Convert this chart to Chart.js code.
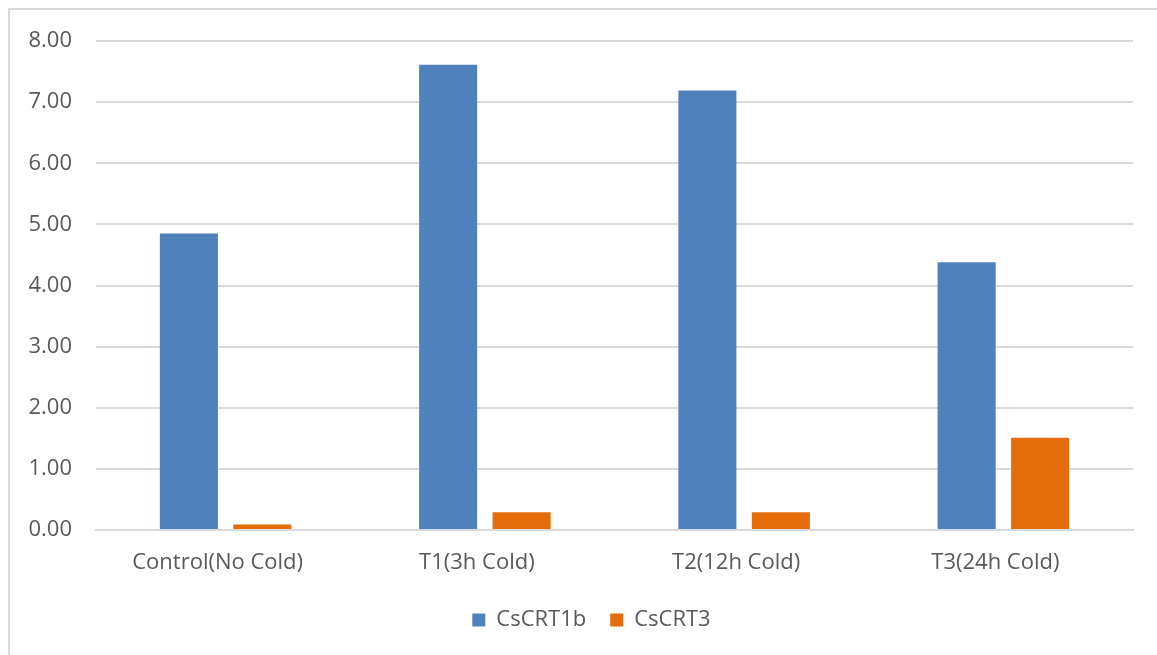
<!DOCTYPE html>
<html>
<head>
<meta charset="utf-8">
<script src="https://cdn.jsdelivr.net/npm/chart.js@4/dist/chart.umd.min.js"></script>
<style>
  html, body { margin: 0; padding: 0; background: #ffffff; }
  #wrap { position: relative; width: 1157px; height: 655px; overflow: hidden; }
  #frame { position: absolute; left: 8px; top: 8px; width: 1170px; height: 670px;
           border: 2px solid #d9d9d9; box-sizing: border-box; }
  #chart { position: absolute; left: 0; top: 0; }
</style>
</head>
<body>
<div id="wrap">
  <div id="frame"></div>
  <canvas id="chart" width="1157" height="655"></canvas>
</div>
<script>
const categories = ['Control(No Cold)', 'T1(3h Cold)', 'T2(12h Cold)', 'T3(24h Cold)'];
const seriesNames = ['CsCRT1b', 'CsCRT3'];
const csCRT1b = [4.85, 7.61, 7.19, 4.38];
const csCRT3 = [0.09, 0.29, 0.29, 1.51];
const yTicks = [0, 1, 2, 3, 4, 5, 6, 7, 8];

const textColor = '#595959';
const fontFamily = '"Open Sans", "Liberation Sans", sans-serif';
const fontSize = 22;

// nudge the legend row to the right so it sits under the plot
const legendShift = {
  id: 'legendShift',
  afterLayout(chart) {
    const lg = chart.legend;
    if (lg) { lg.left += 25; lg.right += 25; }
  }
};

new Chart(document.getElementById('chart'), {
  type: 'bar',
  data: {
    labels: categories,
    datasets: [
      { label: seriesNames[0], data: csCRT1b, backgroundColor: '#4f81bd',
        categoryPercentage: 0.567, barPercentage: 0.79 },
      { label: seriesNames[1], data: csCRT3, backgroundColor: '#e46c0a',
        categoryPercentage: 0.567, barPercentage: 0.79 }
    ]
  },
  plugins: [legendShift],
  options: {
    responsive: false,
    animation: false,
    layout: { padding: { left: 0, right: 24, top: 41, bottom: 14 } },
    plugins: {
      tooltip: { enabled: false },
      legend: {
        position: 'bottom',
        labels: {
          color: textColor,
          font: { family: fontFamily, size: fontSize },
          boxWidth: 13, boxHeight: 13,
          padding: 24
        }
      }
    },
    scales: {
      x: {
        grid: { display: false, drawTicks: false },
        border: { color: '#d9d9d9', width: 2 },
        ticks: { color: textColor, font: { family: fontFamily, size: fontSize }, padding: 20,
                 maxRotation: 0, labelOffset: -8 },
        afterFit: (s) => { s.height = 55; }
      },
      y: {
        min: 0, max: 8,
        afterBuildTicks: (s) => { s.ticks = yTicks.map(v => ({ value: v })); },
        grid: { color: '#d9d9d9', lineWidth: 2, drawTicks: false },
        border: { display: false },
        ticks: { color: textColor, font: { family: fontFamily, size: fontSize }, padding: 24,
                 callback: (v) => Number(v).toFixed(2) },
        afterFit: (s) => { s.width = 96; }
      }
    }
  }
});
</script>
</body>
</html>
